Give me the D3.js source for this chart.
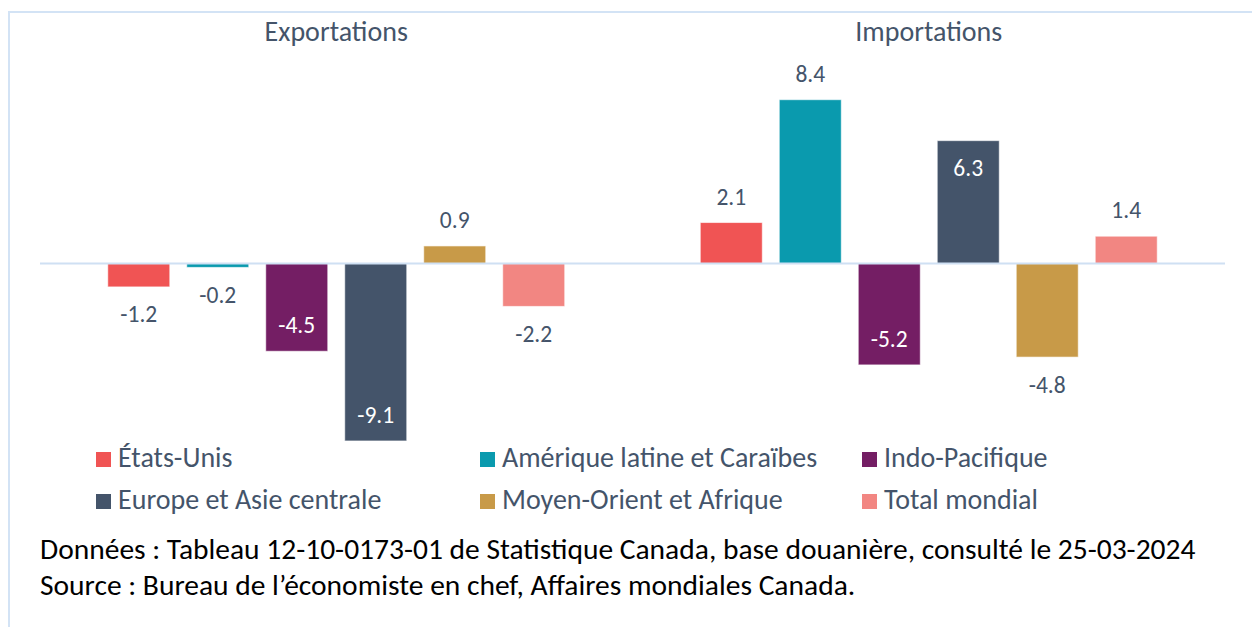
<!DOCTYPE html>
<html>
<head>
<meta charset="utf-8">
<script src="https://cdn.jsdelivr.net/npm/d3@7"></script>
<style>
  body { margin: 0; background: #fff; }
  svg { display: block; font-family: Calibri, Carlito, Lato, sans-serif; }
</style>
</head>
<body>
<div id="chart"></div>
<script>
// donnees du graphique
var groups = ["Exportations", "Importations"];
var series = ["États-Unis", "Amérique latine et Caraïbes", "Indo-Pacifique",
              "Europe et Asie centrale", "Moyen-Orient et Afrique", "Total mondial"];
var exportValues = [-1.2, -0.2, -4.5, -9.1, 0.9, -2.2];
var importValues = [2.1, 8.4, -5.2, 6.3, -4.8, 1.4];
var colors = ["#F05454", "#0A9AAE", "#741E64", "#44546A", "#C89A48", "#F28682"];
// series dont l'etiquette est a l'interieur de la barre
var insideLabel = [false, false, true, true, false, false];
var notes = ["Données : Tableau 12-10-0173-01 de Statistique Canada, base douanière, consulté le 25-03-2024",
             "Source : Bureau de l’économiste en chef, Affaires mondiales Canada."];

var W = 1252, H = 627;
var textColor = "#44546A";

var svg = d3.select("#chart").append("svg")
    .attr("width", W)
    .attr("height", H);

// cadre
svg.append("rect")
    .attr("x", 9).attr("y", 12)
    .attr("width", W).attr("height", H)
    .attr("fill", "none")
    .attr("stroke", "#D3E3F5")
    .attr("stroke-width", 2);

var x0 = d3.scaleBand().domain(groups).range([40, 1225]);
var x1 = d3.scaleBand().domain(d3.range(series.length))
    .range([0, x0.bandwidth()])
    .paddingInner(0.215).paddingOuter(0.858);
var y = d3.scaleLinear().domain([-10, 10]).range([458.5, 68.5]);

var data = [];
groups.forEach(function (g, gi) {
    var vals = gi === 0 ? exportValues : importValues;
    vals.forEach(function (v, i) {
        data.push({group: g, i: i, value: v});
    });
});

// titres des groupes
svg.selectAll("text.title")
    .data(groups)
    .enter().append("text")
    .attr("class", "title")
    .attr("x", function (d) { return x0(d) + x0.bandwidth() / 2; })
    .attr("y", 40.5)
    .attr("text-anchor", "middle")
    .attr("font-size", 28)
    .attr("fill", textColor)
    .text(function (d) { return d; });

// barres
svg.selectAll("rect.bar")
    .data(data)
    .enter().append("rect")
    .attr("class", "bar")
    .attr("x", function (d) { return x0(d.group) + x1(d.i); })
    .attr("y", function (d) { return y(Math.max(0, d.value)); })
    .attr("width", x1.bandwidth())
    .attr("height", function (d) { return Math.abs(y(d.value) - y(0)); })
    .attr("fill", function (d) { return colors[d.i]; })
    .attr("stroke", "#ffffff")
    .attr("stroke-opacity", 0.6)
    .attr("stroke-width", 1);

// ligne du zero
svg.append("line")
    .attr("x1", 40).attr("x2", 1225)
    .attr("y1", y(0)).attr("y2", y(0))
    .attr("stroke", "#CFE0F3")
    .attr("stroke-width", 2);

// etiquettes de valeurs
svg.selectAll("text.val")
    .data(data)
    .enter().append("text")
    .attr("class", "val")
    .attr("x", function (d) { return x0(d.group) + x1(d.i) + x1.bandwidth() / 2; })
    .attr("y", function (d) {
        var end = y(d.value);
        var up = (d.value >= 0) !== insideLabel[d.i];
        return up ? end - 18 : end + 35.5;
    })
    .attr("text-anchor", "middle")
    .attr("font-size", 23.5)
    .attr("fill", function (d) { return insideLabel[d.i] ? "#ffffff" : textColor; })
    .text(function (d) { return d.value.toFixed(1); });

// legende
var legendCols = [96, 480, 862];
var legend = svg.selectAll("g.leg")
    .data(series)
    .enter().append("g")
    .attr("class", "leg")
    .attr("transform", function (d, i) {
        return "translate(" + legendCols[i % 3] + "," + (467 + Math.floor(i / 3) * 42) + ")";
    });
legend.append("rect")
    .attr("x", 0).attr("y", -15)
    .attr("width", 15).attr("height", 15)
    .attr("fill", function (d, i) { return colors[i]; });
legend.append("text")
    .attr("x", 22)
    .attr("font-size", 28)
    .attr("fill", textColor)
    .text(function (d) { return d; });

// notes
svg.selectAll("text.note")
    .data(notes)
    .enter().append("text")
    .attr("class", "note")
    .attr("x", 40)
    .attr("y", function (d, i) { return 559 + i * 36; })
    .attr("font-size", 29.5)
    .attr("fill", "#000")
    .text(function (d) { return d; });
</script>
</body>
</html>
